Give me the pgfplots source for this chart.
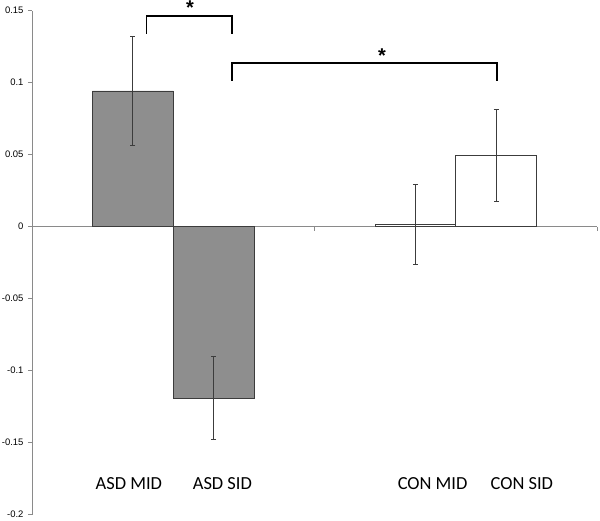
\documentclass[border=0pt]{standalone}
\usepackage{pgfplots}
\pgfplotsset{compat=1.18}
\usepackage{fontspec}
\setmainfont{Carlito}
\newfontfamily\tickfont{Liberation Sans}
\definecolor{bargray}{HTML}{8E8E8E}
\definecolor{edgegray}{HTML}{3C3C3C}
\definecolor{axisgray}{HTML}{8A8A8A}
\begin{document}
\begin{tikzpicture}
\useasboundingbox (-32bp,-6.3bp) rectangle (568bp,514.7bp);
\begin{axis}[
  scale only axis, width=565bp, height=504bp,
  xmin=0.5, xmax=2.5, ymin=-0.2, ymax=0.15,
  axis y line=left, axis x line=middle,
  axis line style={-, axisgray, line width=0.8bp},
  every inner x axis line/.append style={-},
  every outer x axis line/.append style={-},
  every inner y axis line/.append style={-},
  every outer y axis line/.append style={-},
  xtick={0.5,1.5,2.5}, xticklabels={},
  ytick={-0.2,-0.15,-0.1,-0.05,0,0.05,0.1,0.15},
  yticklabels={-0.2,-0.15,-0.1,-0.05,0,0.05,0.1,0.15},
  yticklabel style={font=\tickfont\fontsize{9.5}{10}\selectfont, xshift=-1bp},
  major tick length=4bp,
  tick align=outside,
  tick style={axisgray, line width=0.8bp},
  ybar, bar width=0.286,
  clip=false,
]
\addplot[fill=bargray, draw=edgegray, line width=0.8bp, bar shift=0pt,
  error bars/.cd, y dir=both, y explicit,
  error bar style={edgegray, line width=0.8bp},
  error mark options={rotate=90, mark size=2.5bp, edgegray, line width=0.8bp}]
  coordinates {(0.857,0.0943) +- (0,0.0376) (1.143,-0.119) +- (0,0.0286)};
\addplot[fill=white, draw=edgegray, line width=0.8bp, bar shift=0pt,
  error bars/.cd, y dir=both, y explicit,
  error bar style={edgegray, line width=0.8bp},
  error mark options={rotate=90, mark size=2.5bp, edgegray, line width=0.8bp}]
  coordinates {(1.857,0.0017) +- (0,0.0278) (2.143,0.0493) +- (0,0.032)};

\node[font=\fontsize{18.5}{20}\selectfont] at (axis cs:0.843,-0.1787) {ASD MID};
\node[font=\fontsize{18.5}{20}\selectfont] at (axis cs:1.174,-0.1787) {ASD SID};
\node[font=\fontsize{18.5}{20}\selectfont] at (axis cs:1.918,-0.1787) {CON MID};
\node[font=\fontsize{18.5}{20}\selectfont] at (axis cs:2.234,-0.1787) {CON SID};

\draw[line width=1.6bp] (axis cs:0.906,0.134) -- (axis cs:0.906,0.1463) -- (axis cs:1.207,0.1463) -- (axis cs:1.207,0.134);
\draw[line width=1.6bp] (axis cs:1.207,0.1012) -- (axis cs:1.207,0.1137) -- (axis cs:2.145,0.1137) -- (axis cs:2.145,0.1012);
\node[font=\tickfont\bfseries\fontsize{20}{22}\selectfont, inner sep=0pt] at (axis cs:1.059,0.1519) {*};
\node[font=\tickfont\bfseries\fontsize{20}{22}\selectfont, inner sep=0pt] at (axis cs:1.739,0.1185) {*};
\end{axis}
\end{tikzpicture}
\end{document}
